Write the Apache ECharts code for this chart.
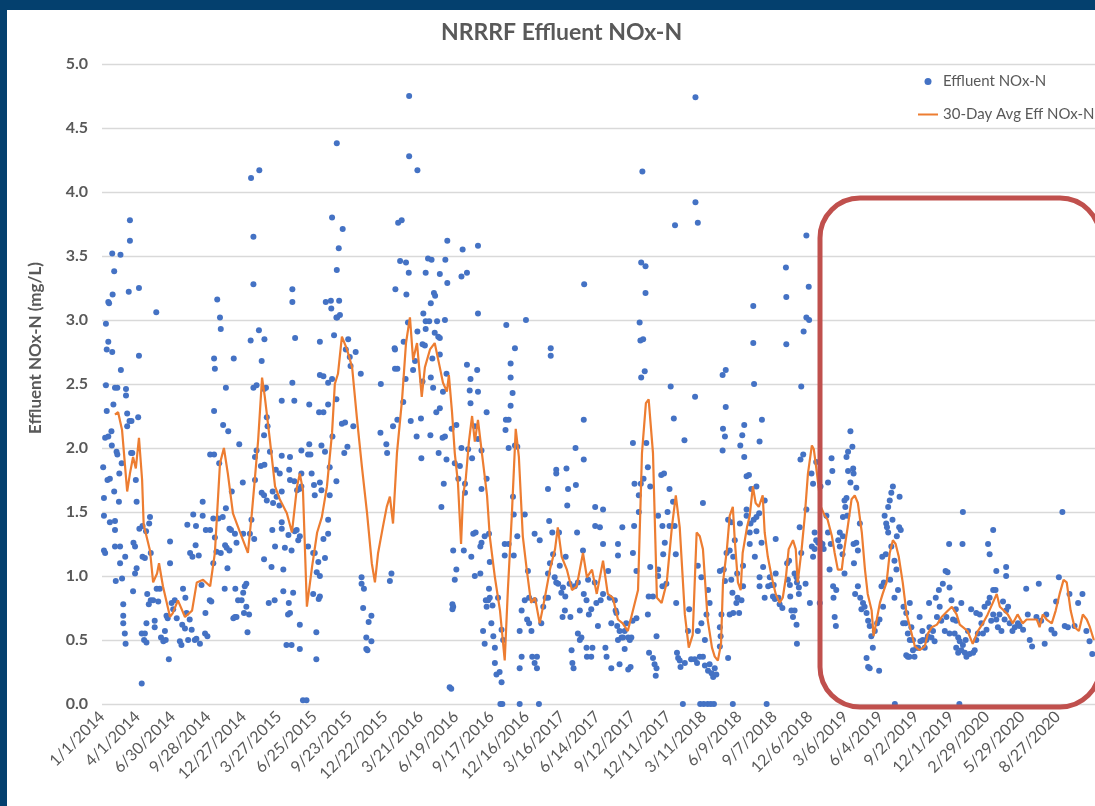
<!DOCTYPE html>
<html lang="en">
<head>
	<meta charset="UTF-8">
	<title>NRRRF Effluent NOx-N</title>
	<script src="https://cdn.jsdelivr.net/npm/echarts/dist/echarts.min.js"></script>
	<style>
		html, body { margin: 0; padding: 0; width: 1095px; height: 806px; overflow: hidden; background: #fff; position: relative; }
		#topbar { position: absolute; left: 0; top: 0; width: 1095px; height: 10px; background: #04406e; }
		#leftbar { position: absolute; left: 0; top: 0; width: 7px; height: 806px; background: #04406e; }
		#main { position: absolute; left: 7px; top: 10px; width: 1100px; height: 796px; background: #fff; }
	</style>
</head>
<body>
	<div id="main"></div>
	<div id="topbar"></div>
	<div id="leftbar"></div>
	<script type="text/javascript">
	// x values are days since 1/1/2014, y values are mg/L
	var tickLabels = ['1/1/2014','4/1/2014','6/30/2014','9/28/2014','12/27/2014','3/27/2015','6/25/2015',
		'9/23/2015','12/22/2015','3/21/2016','6/19/2016','9/17/2016','12/16/2016','3/16/2017','6/14/2017',
		'9/12/2017','12/11/2017','3/11/2018','6/9/2018','9/7/2018','12/6/2018','3/6/2019','6/4/2019',
		'9/2/2019','12/1/2019','2/29/2020','5/29/2020','8/27/2020'];

	// daily samples, jan 2014 - jun 2016
	var nox2014_2016 = [
		[781,4.75],[597,4.38],[781,4.28],[802,4.17],[379,4.11],[400,4.17],[71,3.78],[71,3.62],[26,3.52],[47,3.51],[31,3.38],[16,3.14],[18,3.13],[27,3.20],[10,2.97],[16,2.83],[68,3.22],[94,3.25],[138,3.06],[293,3.16],[300,3.02],[302,2.93],[385,3.65],[385,3.28],[378,2.84],[399,2.92],[413,2.85],[484,3.24],[484,3.14],[491,2.86],[554,2.83],[585,3.80],[612,3.71],[602,3.56],[597,3.39],[569,3.14],[582,3.15],[603,3.15],[583,3.09],[596,3.02],[605,3.04],[590,2.88],[626,2.85],[753,3.76],[762,3.78],[758,3.46],[773,3.45],[780,3.37],[746,3.24],[774,3.20],[823,3.37],[829,3.48],[838,3.47],[873,3.47],[878,3.62],[859,3.36],[878,3.29],[836,3.13],[844,3.21],[847,3.19],[817,3.05],[823,2.99],[832,2.99],[852,2.99],[872,3.00],[778,2.98],[802,2.91],[859,2.86],[823,2.93],[815,2.81],[821,2.80],[767,2.83],[744,2.78],
		[12,2.77],[26,2.75],[94,2.72],[287,2.62],[285,2.70],[335,2.70],[315,2.47],[406,2.68],[484,2.51],[598,3.02],[620,2.77],[645,2.75],[630,2.71],[632,2.64],[658,2.58],[554,2.57],[575,2.51],[527,2.34],[563,2.28],[745,2.77],[745,2.62],[751,2.62],[796,2.68],[791,2.61],[815,2.52],[840,2.70],[846,2.90],[855,2.87],[859,2.73],[876,2.58],[836,2.55],[859,2.31],[709,2.50],
		[10,2.49],[12,2.29],[16,2.09],[8,2.08],[33,2.47],[39,2.47],[29,2.34],[61,2.46],[61,2.41],[48,2.61],[64,2.27],[70,2.21],[75,2.21],[92,2.24],[24,2.13],[37,1.97],[39,1.95],[25,2.02],[74,1.96],[50,1.88],[64,2.17],[44,1.80],
		[285,2.29],[308,2.18],[321,2.13],[349,2.03],[275,1.95],[285,1.95],[298,1.88],[385,2.47],[393,2.49],[412,2.46],[417,2.47],[389,1.93],[393,1.98],[419,2.24],[421,2.17],[412,2.10],[404,1.86],[427,1.97],[457,1.94],[478,1.93],[489,2.37],[457,2.37],[552,2.28],[575,2.34],[563,2.56],[586,2.09],[610,2.19],[618,2.20],[639,2.17],[624,2.01],[616,1.96],[585,2.54],[558,2.02],[527,2.03],[507,1.98],[596,2.38],[723,2.03],[708,2.12],[725,1.96],[740,2.17],[751,2.22],[766,2.36],[772,2.54],[785,2.21],[800,2.09],[811,2.23],[812,1.92],[835,2.10],[842,2.47],[850,2.28],[872,2.09],[866,2.08],[876,1.91],[856,1.96],
		[3,1.85],[14,1.75],[20,1.76],[31,1.66],[43,1.58],[5,1.61],[5,1.47],[20,1.42],[33,1.43],[86,1.75],[88,1.58],[77,1.96],[103,1.39],[112,1.35],[95,1.37],[122,1.46],[120,1.41],[124,1.18],[80,1.26],[84,1.23],[33,1.23],[5,1.20],[8,1.18],[59,1.15],[103,1.15],[109,1.14],[173,1.10],[173,1.27],[224,1.18],[217,1.40],[239,1.39],[238,1.24],[232,1.48],[256,1.58],[256,1.47],[246,1.16],[230,1.15],[264,1.36],[275,1.36],[283,1.45],[296,1.45],[307,1.46],[315,1.53],[330,1.66],[358,1.73],[313,1.24],[324,1.37],[328,1.36],[338,1.33],[342,1.26],[359,1.33],[287,1.30],[302,1.18],[317,1.22],[324,1.20],[380,1.44],[376,1.33],[387,1.29],[389,1.75],[413,1.87],[406,1.65],[412,1.63],[419,1.59],[433,1.36],[434,1.66],[435,1.57],[442,1.83],[452,1.80],[457,1.66],[457,1.42],[444,1.62],[451,1.55],[476,1.83],[489,1.74],[478,1.75],[502,1.68],[507,1.70],[496,1.67],[507,1.80],[524,1.95],[530,1.95],[533,1.80],[539,1.71],[554,1.73],[541,1.63],[558,1.67],[567,1.97],[579,1.63],[579,1.85],[596,1.74],[490,1.35],[495,1.36],[503,1.31],[499,1.28],[524,1.23],[541,1.18],[550,1.11],[563,1.29],[575,1.44],[575,1.33],[567,1.14],[537,1.18],[457,1.37],[465,1.22],[474,1.32],[482,1.20],[440,1.23],[412,1.13],[291,1.19],[283,1.10],[33,1.36],[46,1.23],[46,1.10],
		[35,0.96],[51,0.98],[54,0.78],[54,0.69],[54,0.63],[58,0.55],[60,0.47],[79,0.88],[84,1.02],[88,1.06],[101,0.16],[101,0.55],[109,0.55],[107,0.50],[113,0.48],[113,0.63],[115,0.86],[119,0.78],[124,0.81],[134,0.65],[134,0.60],[130,0.81],[139,0.90],[147,0.90],[143,0.80],[150,0.52],[156,0.49],[162,0.50],[160,0.57],[164,0.69],[167,0.67],[170,0.35],[177,0.79],[181,0.74],[185,0.81],[190,0.67],[198,0.49],[202,0.46],[204,0.62],[211,0.59],[212,0.83],[215,0.71],[206,0.90],[219,0.50],[223,0.66],[228,0.58],[236,0.50],[240,0.51],[249,0.47],[263,0.71],[262,0.55],[268,0.53],[274,0.81],[278,0.80],[253,0.93],[312,0.90],[319,1.06],[334,0.67],[338,0.68],[342,0.68],[361,0.71],[374,0.70],[370,0.56],[346,0.81],[355,0.81],[367,0.76],[359,0.87],[363,0.92],[367,0.94],[339,0.90],[424,0.79],[439,0.81],[431,1.07],[461,0.88],[469,0.46],[475,0.79],[473,0.70],[503,0.62],[503,0.43],[511,0.03],[520,0.03],[545,0.56],[545,0.35],[551,0.82],[664,0.75],[666,0.90],[660,0.94],[660,0.99],[678,0.64],[685,0.69],[672,0.52],[685,0.49],[672,0.43],[675,0.42],[732,0.96],[736,1.02],[884,0.13],[888,0.12],[893,0.76],
		[537,0.86],[554,0.84],[546,1.03],[554,1.00],[486,0.87],[478,0.71],[482,0.46],[461,1.05]
	];

	// jun 2016 - feb 2018
	var nox2016_2018 = [
		[869,1.72],[863,1.54],[867,2.44],
		[1509,4.74],[1374,4.16],[1509,3.92],[1515,3.76],[1457,3.74],[917,3.55],[956,3.58],[914,3.34],[928,3.37],[1371,3.45],[1382,3.42],[1382,3.21],[1226,3.28],[956,3.05],[1078,3.00],[1028,2.96],[1050,2.78],[1141,2.78],[1141,2.72],[1367,2.98],[1369,2.84],[1376,2.85],[1371,2.55],[1380,2.60],[928,2.65],[937,2.54],[935,2.45],[956,2.44],[937,2.35],[954,2.61],[1039,2.66],[1039,2.55],[1044,2.43],[1039,2.33],[1027,2.22],[1034,2.22],[1026,2.14],[1034,2.00],[1050,2.02],[1056,2.01],[978,2.28],[1446,2.48],[1508,2.40],[1454,2.23],[1481,2.06],[1225,2.22],[1204,2.00],[1225,1.91],[1350,2.04],[1384,2.04],[1388,1.85],
		[889,2.15],[901,2.18],[897,1.88],[914,2.00],[910,1.86],[906,1.76],[923,1.72],[923,1.65],[931,1.99],[941,1.92],[948,2.17],[956,2.07],[965,1.98],[965,1.68],[978,1.76],[893,1.20],[897,0.97],[901,1.05],[891,0.78],[891,0.74],[920,1.20],[939,1.15],[944,1.33],[950,1.34],[948,1.00],[962,1.23],[965,1.26],[962,1.02],[973,1.31],[984,1.33],[986,1.11],[978,0.76],[976,0.81],[982,0.81],[969,0.57],[973,0.47],[984,0.90],[986,0.83],[990,0.63],[993,0.77],[995,0.53],[999,0.44],[999,0.32],[1003,0.23],[1011,0.25],[1016,0.17],[1007,0.83],[1016,0.58],[1013,0],[1018,0],[1020,0.50],[1024,1.16],[1024,1.25],[1034,1.25],[1045,1.62],[1047,1.48],[1056,1.31],[1047,1.16],[1062,0.57],[1067,0.73],[1067,0.37],[1062,0.28],[1062,0],[1075,0.81],[1083,1.04],[1086,0.83],[1075,1.48],[1081,0.66],[1086,0.63],[1092,0.57],[1094,0.37],[1106,0.37],[1100,0.81],[1100,0.32],[1106,0.28],[1111,0],[1100,1.33],[1113,1.28],[1117,0.63],[1122,0.76],[1128,0.83],[1134,0.83],[1134,1.02],[1134,1.68],[1137,1.43],[1139,1.10],[1145,1.34],[1147,1.17],[1151,0.99],[1155,0.95],[1160,0.94],[1155,1.80],[1155,1.83],[1162,1.34],[1164,1.08],[1168,0.87],[1172,0.91],[1178,0.84],[1171,0.68],[1177,0.73],[1181,1.84],[1185,1.68],[1183,1.55],[1179,1.15],[1189,0.94],[1191,0.68],[1194,0.42],[1196,0.32],[1199,0.28],[1202,0.92],[1205,1.71],[1208,1.34],[1210,0.95],[1210,0.55],[1215,0.50],[1215,0.73],[1219,0.52],[1223,1.20],[1225,0.86],[1232,0.81],[1232,0.44],[1233,0.37],[1236,0.97],[1238,0.70],[1244,0.37],[1247,0.44],[1244,0.74],[1253,0.95],[1254,1.39],[1254,1.54],[1257,0.79],[1261,0.61],[1266,1.38],[1268,0.81],[1274,1.52],[1274,1.25],[1274,0.86],[1280,0.44],[1283,0.37],[1287,1.04],[1291,0.83],[1295,0.63],[1304,0.81],[1306,0.73],[1310,0.61],[1295,0.28],[1312,1.25],[1312,1.16],[1308,0.71],[1312,0.50],[1316,0.57],[1321,0.52],[1325,0.52],[1316,0.31],[1323,1.38],[1329,0.57],[1329,0.43],[1333,0.63],[1338,0.52],[1342,0.50],[1344,0.29],[1338,0.27],[1346,0.52],[1349,0.65],[1350,1.18],[1353,1.39],[1354,1.72],[1359,0.67],[1359,1.04],[1365,1.50],[1365,1.63],[1370,1.72],[1377,1.76],[1390,0.84],[1394,1.70],[1394,1.07],[1388,0.70],[1391,0.40],[1401,0.84],[1401,0.36],[1405,0.31],[1408,0.22],[1410,0.53],[1410,0.28],[1414,1.05],[1414,1.47],[1414,1.00],[1422,1.79],[1429,1.80],[1425,1.39],[1427,1.17],[1425,0.92],[1431,1.26],[1435,0.94],[1438,1.50],[1443,1.68],[1443,1.39],[1452,1.58],[1456,1.39],[1459,1.17],[1460,0.79],[1462,0.40],[1465,0.36],[1469,0.34],[1471,0.29],[1482,0.32],[1477,0],[1490,0.57],[1493,0.74],[1498,0.35],[1507,0.35],[1513,0.32],[1515,1.08],[1515,0.57]
	];

	// feb 2018 - oct 2019
	var nox2018_2019 = [
		[1739,3.41],[1791,3.66],[1740,3.18],[1797,3.26],[1656,3.11],[1791,3.02],[1798,3.00],[1784,2.91],[1740,2.81],[1656,2.82],[1578,2.57],[1586,2.61],[1586,2.32],[1778,2.48],[1658,2.50],[1678,2.22],[1633,2.18],[1628,2.10],[1672,2.05],[1579,2.15],[1584,2.09],[1578,1.98],[1623,2.02],[1633,1.93],[1776,1.91],[1783,1.95],[1791,1.52],[1804,1.80],[1808,1.72],[1816,1.89],[1827,1.70],[1639,1.78],[1645,1.79],[1651,1.68],[1664,1.70],[1671,1.49],[1685,1.59],[1639,1.52],[1639,1.47],[1657,1.44],[1664,1.46],[1649,1.41],[1647,1.34],[1647,1.25],[1664,1.35],[1660,1.15],[1677,1.26],[1672,0.99],[1681,1.07],[1672,0.92],[1685,0.83],[1694,0.92],[1698,0.99],[1702,0.93],[1713,1.29],[1713,1.02],[1708,0.93],[1706,0.84],[1711,0.82],[1723,0.78],[1720,0.83],[1730,0.75],[1742,1.10],[1747,1.12],[1744,0.97],[1749,0.93],[1750,0.84],[1753,0.73],[1757,0.68],[1761,0.73],[1766,0.62],[1767,0.47],[1772,0.91],[1772,0.86],[1767,0.95],[1761,1.02],[1766,0.99],[1774,1.38],[1778,1.18],[1789,0.94],[1800,0.79],[1805,1.23],[1808,1.15],[1812,1.21],[1816,1.28],[1812,1.34],[1821,1.26],[1827,1.26],[1832,1.25],[1835,1.21],[1825,0.79],[1690,0],[1604,0],[1521,0],[1530,0],[1540,0],[1548,0],[1556,0],
		[1528,1.57],[1524,0.99],[1541,0.89],[1545,0.79],[1537,0.70],[1524,0.63],[1533,0.50],[1520,0.37],[1528,0.37],[1533,0.30],[1541,0.26],[1545,0.31],[1550,0.24],[1554,0.21],[1562,0.23],[1558,0.28],[1571,0.45],[1573,0.53],[1571,0.60],[1575,0.70],[1571,1.04],[1584,0.96],[1581,1.05],[1588,1.18],[1592,1.44],[1600,1.42],[1596,1.20],[1605,1.15],[1600,0.97],[1603,0.87],[1605,0.71],[1613,0.79],[1616,0.83],[1620,0.71],[1626,0.81],[1609,1.28],[1615,1.02],[1630,0.92],[1630,1.08],[1622,1.41],[1596,0.70],[1592,0.36],
		[1846,1.73],[1855,1.92],[1857,1.82],[1842,1.47],[1846,1.34],[1853,1.25],[1859,0.92],[1860,0.83],[1867,0.89],[1863,0.68],[1866,0.61],[1850,1.05],[1872,1.28],[1876,1.23],[1876,1.34],[1884,1.46],[1884,1.31],[1888,1.59],[1893,1.61],[1890,1.54],[1883,1.17],[1888,1.02],[1895,1.47],[1893,1.93],[1897,1.97],[1903,2.13],[1897,1.82],[1903,1.73],[1910,1.84],[1911,1.80],[1908,2.01],[1918,1.69],[1911,1.25],[1918,1.26],[1922,1.20],[1912,1.10],[1927,1.41],[1915,0.86],[1922,0.92],[1928,0.83],[1935,0.79],[1931,0.74],[1939,0.76],[1944,0.71],[1948,0.65],[1944,0.36],[1948,0.29],[1952,0.28],[1952,0.61],[1956,0.53],[1960,0.44],[1965,0.57],[1971,0.63],[1976,0.26],[1977,0.66],[1982,0.92],[1986,0.76],[1988,0.95],[1984,1.15],[1990,1.47],[1994,1.41],[1993,1.17],[1996,1.38],[1999,1.34],[1999,1.54],[2003,1.59],[2007,1.65],[2011,1.70],[2010,1.44],[2007,1.23],[2004,0.97],[2015,1.12],[2020,1.05],[2021,1.31],[2027,1.38],[2028,1.62],[2031,1.36],[2024,0.89],[2015,0.83],[2038,0.76],[2045,0.71],[2037,0.63],[2043,0.63],[2049,0.55],[2054,0.79],[2054,0.50],[2058,0.60],[2062,0.50],[2045,0.38],[2049,0.37],[2053,0.37],[2062,0.42],[2066,0.37],[2071,0.44],[2075,0.44],[2079,0.68],[2081,0.49],[2086,0.57],[2087,0.50],[2092,0.44],[2096,0.50],[2100,0.53],[2103,0.79],[2104,0.60],[2109,0.52],[2113,0.57],[2117,0.49],[2120,0.83],[2123,0.68],[2128,0.89],[2016,0]
	];

	// oct 2019 - nov 2020
	var nox2019_2020 = [
		[2189,1.50],[2442,1.50],[2266,1.36],[2154,1.25],[2188,1.25],[2253,1.25],[2257,1.17],[2274,1.04],[2299,1.07],[2299,1.00],[2145,1.04],[2150,1.03],[2138,0.94],[2155,0.91],[2160,0.81],[2433,0.99],[2350,0.90],[2382,0.94],[2266,0.89],[2272,0.89],[2291,0.80],[2304,0.76],[2482,0.79],[2493,0.86],[2460,0.86],[2426,0.80],[2253,0.79],[2257,0.83],[2244,0.76],[2232,0.70],[2223,0.71],[2210,0.74],[2185,0.79],[2171,0.74],[2164,0.66],[2172,0.65],[2147,0.68],[2130,0.76],[2134,0.65],[2143,0.57],[2155,0.55],[2168,0.55],[2177,0.52],[2181,0.49],[2189,0.46],[2196,0.50],[2202,0.57],[2172,0.44],[2177,0.40],[2185,0.42],[2194,0.40],[2198,0.37],[2206,0.39],[2215,0.40],[2219,0.42],[2223,0.50],[2227,0.55],[2236,0.63],[2240,0.55],[2249,0.58],[2261,0.65],[2266,0.70],[2274,0.66],[2278,0.60],[2287,0.57],[2282,0.70],[2295,0.66],[2299,0.73],[2308,0.63],[2315,0.57],[2321,0.60],[2329,0.63],[2333,0.61],[2342,0.58],[2354,0.70],[2359,0.50],[2365,0.45],[2376,0.68],[2388,0.65],[2397,0.47],[2401,0.70],[2414,0.58],[2422,0.55],[2448,0.61],[2456,0.60],[2473,0.61],[2503,0.57],[2511,0.49],[2518,0.39],[2180,0]
	];

	// 30 day rolling average
	var avg30 = [
		[33,2.26],[41,2.28],[51,2.14],[64,1.66],[71,1.80],[79,1.93],[86,1.84],[94,2.08],[102,1.75],[106,1.40],[122,1.20],[130,0.95],[140,1.02],[145,1.10],[155,0.92],[173,0.68],[180,0.71],[193,0.81],[211,0.68],[229,0.73],[241,0.95],[257,0.97],[275,0.92],[287,1.18],[300,1.88],[310,2.00],[320,1.80],[333,1.49],[351,1.34],[371,1.18],[381,1.49],[389,1.77],[397,2.06],[407,2.55],[414,2.40],[427,2.06],[440,1.70],[452,1.60],[470,1.49],[483,1.34],[496,1.70],[503,1.80],[511,1.67],[521,0.76],[534,1.07],[547,1.34],[559,1.46],[572,1.70],[585,2.12],[592,2.50],[600,2.58],[610,2.87],[623,2.77],[636,2.63],[648,2.24],[661,1.85],[674,1.49],[686,1.10],[694,0.95],[702,1.18],[714,1.38],[724,1.54],[732,1.62],[740,1.41],[750,1.96],[763,2.38],[773,2.82],[783,3.02],[791,2.69],[801,2.82],[813,2.40],[821,2.63],[834,2.77],[846,2.82],[859,2.63],
		[867,2.51],[877,2.44],[882,2.57],[890,2.28],[897,1.96],[905,1.73],[913,1.25],[918,1.63],[925,1.76],[933,2.05],[941,2.25],[948,2.05],[956,2.22],[966,1.96],[979,1.63],[986,1.31],[999,0.99],[1012,0.73],[1024,0.34],[1032,0.89],[1042,1.47],[1052,2.15],[1060,1.93],[1070,1.31],[1080,1.05],[1091,0.79],[1101,0.83],[1113,0.63],[1126,0.83],[1139,1.05],[1152,1.21],[1159,1.38],[1169,1.15],[1182,1.05],[1195,0.89],[1207,0.92],[1223,1.18],[1233,0.99],[1246,1.05],[1258,0.86],[1274,1.12],[1286,0.86],[1299,0.83],[1312,0.66],[1324,0.63],[1337,0.57],[1350,0.73],[1363,0.89],[1373,1.96],[1383,2.35],[1390,2.38],[1401,1.96],[1411,0.83],[1423,0.79],[1436,0.95],[1449,1.38],[1459,1.63],[1469,1.38],[1482,0.70],[1492,0.44],[1502,0.54],[1512,1.34],[1520,1.31],
		[1528,1.21],[1535,0.89],[1540,0.66],[1551,0.44],[1558,0.37],[1566,0.34],[1574,0.47],[1579,0.95],[1589,1.21],[1596,1.47],[1604,1.54],[1609,1.28],[1617,0.95],[1624,0.89],[1629,1.18],[1640,1.38],[1647,1.47],[1655,1.70],[1662,1.57],[1670,1.54],[1680,1.63],[1685,1.34],[1693,1.15],[1703,0.99],[1713,0.86],[1723,0.79],[1731,0.83],[1739,0.99],[1746,1.21],[1757,1.28],[1764,1.21],[1769,0.95],[1779,1.21],[1787,1.47],[1795,1.80],[1805,2.02],[1810,1.99],[1818,1.80],[1828,1.54],[1838,1.47],[1845,1.44],[1856,1.31],[1863,1.18],[1871,1.05],[1881,1.05],[1886,1.18],[1896,1.38],[1906,1.60],[1914,1.63],[1922,1.57],[1932,1.34],[1940,1.05],[1947,0.86],[1957,0.73],[1962,0.53],[1970,0.66],[1978,0.79],[1985,0.86],[1995,0.95],[2003,1.18],[2011,1.28],[2018,1.25],[2026,1.15],[2036,0.95],[2046,0.70],[2057,0.57],[2067,0.45],[2079,0.42],[2092,0.45],[2100,0.55],[2110,0.60],[2123,0.62],[2135,0.68],[2148,0.72],[2161,0.76],[2173,0.70],[2181,0.62],
		[2189,0.60],[2201,0.57],[2214,0.47],[2227,0.57],[2240,0.63],[2252,0.70],[2265,0.79],[2275,0.86],[2283,0.76],[2293,0.73],[2303,0.70],[2316,0.63],[2328,0.70],[2341,0.63],[2351,0.66],[2364,0.66],[2377,0.66],[2384,0.60],[2392,0.70],[2402,0.66],[2415,0.63],[2425,0.73],[2435,0.86],[2445,0.97],[2453,0.95],[2463,0.73],[2473,0.60],[2484,0.57],[2494,0.70],[2504,0.66],[2512,0.60],[2522,0.50]
	];

	var effluent = nox2014_2016.concat(nox2016_2018, nox2018_2019, nox2019_2020);

	var myChart = echarts.init(document.getElementById('main'));
	var font = 'Lato, "Noto Sans", sans-serif';
	var grey = '#595959';

	var option = {
		animation: false,
		backgroundColor: '#fff',
		title: {
			text: 'NRRRF Effluent NOx-N',
			left: 434,
			top: 11,
			padding: 0,
			textStyle: { fontFamily: font, fontSize: 23, fontWeight: 'bold', color: grey }
		},
		legend: {
			orient: 'vertical',
			left: 911,
			top: 62,
			padding: 0,
			itemGap: 14,
			itemWidth: 20,
			itemHeight: 7,
			textStyle: { fontFamily: font, fontSize: 15, color: grey, lineHeight: 19 },
			data: [
				{ name: 'Effluent NOx-N', icon: 'circle' },
				{ name: '30-Day Avg Eff NOx-N', icon: 'path://M0,0H22V2.2H0Z' }
			]
		},
		grid: {
			left: 95,
			top: 54,
			width: 995,
			height: 640,
			containLabel: false,
			outerBoundsMode: 'none'
		},
		xAxis: {
			type: 'value',
			min: 0,
			max: 2530,
			interval: 90,
			axisLine: { show: false },
			axisTick: { show: false },
			splitLine: { show: false },
			axisLabel: {
				rotate: 45,
				margin: 10,
				fontFamily: font,
				fontSize: 16,
				color: grey,
				showMaxLabel: false,
				formatter: function (v) {
					var i = v / 90;
					if (i !== Math.round(i)) return '';
					return tickLabels[i] || '';
				}
			}
		},
		yAxis: {
			type: 'value',
			min: 0,
			max: 5,
			interval: 0.5,
			name: 'Effluent NOx-N (mg/L)',
			nameLocation: 'middle',
			nameGap: 58,
			nameTextStyle: { fontFamily: font, fontSize: 17, fontWeight: 'bold', color: grey, padding: [0, 0, 0, 72] },
			axisLine: { show: false },
			axisTick: { show: false },
			splitLine: { lineStyle: { color: '#d9d9d9', width: 1.3 } },
			axisLabel: {
				margin: 14,
				fontFamily: font,
				fontSize: 16,
				fontWeight: 'bold',
				color: grey,
				formatter: function (v) { return v.toFixed(1); }
			}
		},
		graphic: [{
			// red highlight box around 2019-2020, runs off the right edge
			type: 'rect',
			z: 100,
			shape: { x: 813, y: 188, width: 280, height: 509, r: 40 },
			style: { fill: 'none', stroke: '#c0504d', lineWidth: 5 }
		}],
		series: [{
			name: 'Effluent NOx-N',
			type: 'scatter',
			symbolSize: 6,
			itemStyle: { color: '#4472c4', opacity: 1 },
			data: effluent
		}, {
			name: '30-Day Avg Eff NOx-N',
			type: 'line',
			showSymbol: false,
			symbol: 'none',
			lineStyle: { color: '#ed7d31', width: 2.2 },
			itemStyle: { color: '#ed7d31' },
			data: avg30
		}]
	};
	myChart.setOption(option);
	</script>
</body>
</html>
